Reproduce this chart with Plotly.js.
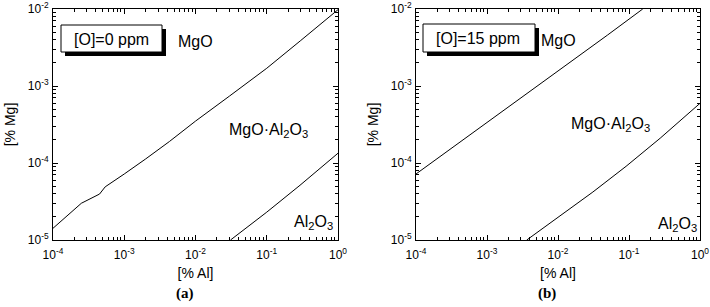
<!DOCTYPE html>
<html>
<head>
<meta charset="utf-8">
<script src="https://cdn.plot.ly/plotly-3.0.1.min.js"></script>
<style>html,body{margin:0;padding:0;background:#fff;}#chart{width:710px;height:307px;}</style>
</head>
<body>
<div id="chart"></div>
<script>
// Panel (a): [O] = 0 ppm
const aUpperAl = [1e-4, 2.5e-4, 4.5e-4, 5.4e-4, 1e-3, 1.7e-3, 2e-3, 4.3e-3, 1e-2, 3e-2, 0.1, 0.3, 1];
const aUpperMg = [1.42e-5, 3.0e-5, 3.95e-5, 4.9e-5, 7.2e-5, 1.0e-4, 1.13e-4, 1.9e-4, 3.5e-4, 7.4e-4, 1.7e-3, 3.9e-3, 9.8e-3];
const aLowerAl = [0.031, 0.058, 0.1, 0.293, 1];
const aLowerMg = [1e-5, 1.55e-5, 2.3e-5, 5.14e-5, 1.34e-4];
// Panel (b): [O] = 15 ppm
const bUpperAl = [1e-4, 1e-3, 5.16e-3, 1e-2, 0.05, 0.156];
const bUpperMg = [7.2e-5, 3.34e-4, 1e-3, 1.56e-3, 4.6e-3, 1e-2];
const bLowerAl = [3.63e-3, 0.0107, 0.031, 0.091, 0.275, 1];
const bLowerMg = [1e-5, 2.04e-5, 4.2e-5, 9.06e-5, 2.1e-4, 5.96e-4];
// Tick labels
const xTickVals = [1e-4, 1e-3, 1e-2, 1e-1, 1];
const xTickText = ['10<sup>-4</sup>', '10<sup>-3</sup>', '10<sup>-2</sup>', '10<sup>-1</sup>', '10<sup>0</sup>'];
const yTickVals = [1e-5, 1e-4, 1e-3, 1e-2];
const yTickText = ['10<sup>-5</sup>', '10<sup>-4</sup>', '10<sup>-3</sup>', '10<sup>-2</sup>'];
const panelLabels = ['(a)', '(b)'];
const boxLabels = ['[O]=0 ppm', '[O]=15 ppm'];
const xTitle = '[% Al]';
const yTitle = '[% Mg]';

const W = 710, H = 307;
const px = v => v / W;
const py = v => 1 - v / H;

const lineStyle = {color: '#000', width: 1};
const traces = [
  {x: aUpperAl, y: aUpperMg, xaxis: 'x', yaxis: 'y', mode: 'lines', line: lineStyle, showlegend: false},
  {x: aLowerAl, y: aLowerMg, xaxis: 'x', yaxis: 'y', mode: 'lines', line: lineStyle, showlegend: false},
  {x: bUpperAl, y: bUpperMg, xaxis: 'x2', yaxis: 'y2', mode: 'lines', line: lineStyle, showlegend: false},
  {x: bLowerAl, y: bLowerMg, xaxis: 'x2', yaxis: 'y2', mode: 'lines', line: lineStyle, showlegend: false}
];

const FONT = 'Liberation Sans, Arial, sans-serif';
function xAxis(domain, anchor) {
  return {
    type: 'log', range: [-4, 0], domain: domain, anchor: anchor,
    tickmode: 'array', tickvals: xTickVals, ticktext: xTickText,
    ticks: 'inside', ticklen: 5, tickcolor: '#000', mirror: 'allticks',
    showline: true, linecolor: '#000', linewidth: 1,
    showgrid: false, zeroline: false,
    minor: {ticks: 'inside', ticklen: 3, tickcolor: '#000', dtick: 'D1', showgrid: false},
    tickfont: {family: FONT, size: 12, color: '#000'},
    ticklabelstandoff: 4,
    title: {text: xTitle, font: {family: FONT, size: 14, color: '#000'}, standoff: 6},
    automargin: false
  };
}
function yAxis(domain, anchor) {
  return {
    type: 'log', range: [-5, -2], domain: domain, anchor: anchor,
    tickmode: 'array', tickvals: yTickVals, ticktext: yTickText,
    ticks: 'inside', ticklen: 5, tickcolor: '#000', mirror: 'allticks',
    showline: true, linecolor: '#000', linewidth: 1,
    showgrid: false, zeroline: false,
    minor: {ticks: 'inside', ticklen: 3, tickcolor: '#000', dtick: 'D1', showgrid: false},
    tickfont: {family: FONT, size: 12, color: '#000'},
    ticklabelstandoff: 1,
    title: {text: yTitle, font: {family: FONT, size: 14, color: '#000'}, standoff: 8},
    automargin: false
  };
}

const yDom = [1 - 240 / H, 1 - 9 / H];
const layout = {
  width: W, height: H,
  margin: {l: 0, r: 0, t: 0, b: 0},
  paper_bgcolor: '#fff', plot_bgcolor: '#fff',
  xaxis: xAxis([px(53), px(338)], 'y'),
  yaxis: yAxis(yDom, 'x'),
  xaxis2: xAxis([px(416), px(700)], 'y2'),
  yaxis2: yAxis(yDom, 'x2'),
  shapes: [
    {type: 'rect', xref: 'paper', yref: 'paper', x0: px(65), x1: px(166), y0: py(56), y1: py(29), fillcolor: '#000', line: {width: 0}, layer: 'above'},
    {type: 'rect', xref: 'paper', yref: 'paper', x0: px(61), x1: px(162), y0: py(52), y1: py(25), fillcolor: '#fff', line: {color: '#000', width: 1}, layer: 'above'},
    {type: 'rect', xref: 'paper', yref: 'paper', x0: px(427), x1: px(539), y0: py(56), y1: py(28), fillcolor: '#000', line: {width: 0}, layer: 'above'},
    {type: 'rect', xref: 'paper', yref: 'paper', x0: px(423), x1: px(535), y0: py(52), y1: py(24), fillcolor: '#fff', line: {color: '#000', width: 1}, layer: 'above'}
  ],
  annotations: []
};

function lab(text, x, y, size, family, extra) {
  return Object.assign({text: text, xref: 'paper', yref: 'paper', x: px(x), y: py(y),
    xanchor: 'center', yanchor: 'middle', showarrow: false,
    font: {family: family || FONT, size: size || 16, color: '#000'}}, extra || {});
}
layout.annotations.push(
  lab(boxLabels[0], 111, 39),
  lab(boxLabels[1], 478, 38),
  lab('MgO', 195.5, 41),
  lab('MgO·Al<sub>2</sub>O<sub>3</sub>', 268, 130),
  lab('Al<sub>2</sub>O<sub>3</sub>', 313, 222),
  lab('MgO', 558, 40),
  lab('MgO·Al<sub>2</sub>O<sub>3</sub>', 610, 125),
  lab('Al<sub>2</sub>O<sub>3</sub>', 677, 224),
  lab('<b>' + panelLabels[0] + '</b>', 185, 293, 15, 'Liberation Serif, Times New Roman, serif'),
  lab('<b>' + panelLabels[1] + '</b>', 547, 293, 15, 'Liberation Serif, Times New Roman, serif')
);

Plotly.newPlot('chart', traces, layout, {displayModeBar: false, staticPlot: true});
</script>
</body>
</html>
